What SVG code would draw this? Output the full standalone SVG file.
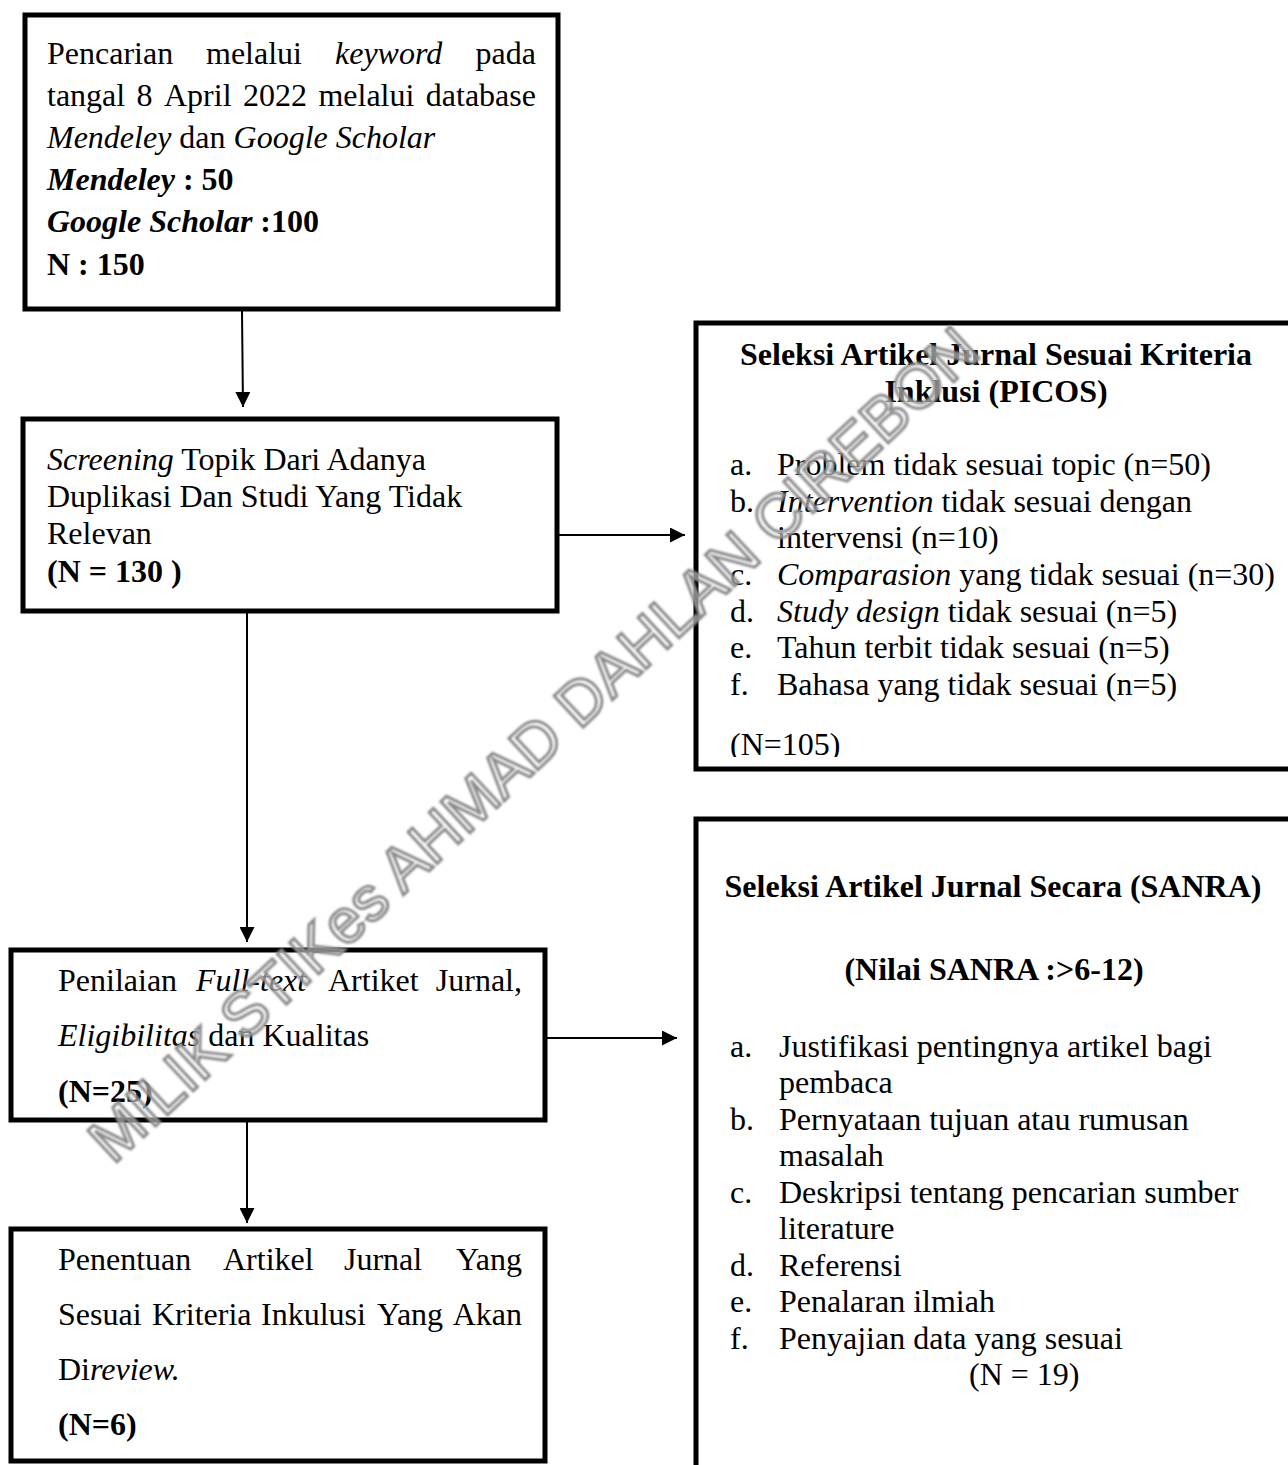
<svg xmlns="http://www.w3.org/2000/svg" width="1288" height="1465" viewBox="0 0 1288 1465">
<style>
.t{font-family:"Liberation Serif","Times New Roman",serif;font-size:32px;fill:#000}
.i{font-style:italic}
.b{font-weight:bold}
.c{text-anchor:middle}
.e{text-anchor:end}
.box{fill:#fff;stroke:#000;stroke-width:5}
.conn{stroke:#000;stroke-width:2;fill:none}
.wm{font-family:"Liberation Sans",Arial,sans-serif;font-size:62px;fill:#fff;fill-opacity:0.45;stroke:#8a8a8a;stroke-width:3;text-anchor:middle}
</style>
<defs>
<marker id="ah" viewBox="0 0 15 15" refX="15" refY="7.5" markerWidth="15" markerHeight="15" markerUnits="userSpaceOnUse" orient="auto">
<path d="M0,0 L15,7.5 L0,15 z" fill="#000"/>
</marker>
<clipPath id="picosClip"><rect x="696" y="323" width="600" height="434"/></clipPath>
<filter id="soft" x="-5%" y="-5%" width="110%" height="110%"><feGaussianBlur stdDeviation="0.9"/></filter>
</defs>
<rect width="1288" height="1465" fill="#fff"/>

<g id="connectors">
<path class="conn" d="M242,311 L243,407" marker-end="url(#ah)"/>
<path class="conn" d="M558,535 L685,535" marker-end="url(#ah)"/>
<path class="conn" d="M247,612 L247,942" marker-end="url(#ah)"/>
<path class="conn" d="M546,1038 L677,1038" marker-end="url(#ah)"/>
<path class="conn" d="M247,1121 L247,1223" marker-end="url(#ah)"/>
</g>

<g id="node-search">
<rect class="box" x="25" y="15" width="533" height="294"/>
<text class="t" x="47" y="64">Pencarian</text>
<text class="t" x="206" y="64">melalui</text>
<text class="t i" x="335" y="64">keyword</text>
<text class="t e" x="536" y="64">pada</text>
<text class="t" y="106"><tspan x="47">tangal</tspan><tspan x="136.6">8</tspan><tspan x="164">April</tspan><tspan x="243">2022</tspan><tspan x="318.4">melalui</tspan><tspan x="425.8">database</tspan></text>
<text class="t" x="47" y="148"><tspan class="i">Mendeley</tspan> dan <tspan class="i">Google Scholar</tspan></text>
<text class="t b" x="47" y="190"><tspan class="i">Mendeley</tspan> : 50</text>
<text class="t b" x="47" y="232"><tspan class="i">Google Scholar</tspan> :100</text>
<text class="t b" x="47" y="275">N : 150</text>
</g>

<g id="node-screening">
<rect class="box" x="23" y="419" width="534" height="192"/>
<text class="t" x="47" y="470"><tspan class="i">Screening</tspan> Topik Dari Adanya</text>
<text class="t" x="47" y="507">Duplikasi Dan Studi Yang Tidak</text>
<text class="t" x="47" y="544">Relevan</text>
<text class="t b" x="47" y="582">(N = 130 )</text>
</g>

<g id="node-picos">
<rect class="box" x="696" y="323" width="610" height="446"/>
<text class="t b c" x="996" y="365">Seleksi Artikel Jurnal Sesuai Kriteria</text>
<text class="t b c" x="996" y="402">Inklusi (PICOS)</text>
<text class="t" x="730" y="475">a.</text><text class="t" x="777" y="475">Problem tidak sesuai topic (n=50)</text>
<text class="t" x="730" y="512">b.</text><text class="t" x="777" y="512"><tspan class="i">Intervention</tspan> tidak sesuai dengan</text>
<text class="t" x="777" y="548">intervensi (n=10)</text>
<text class="t" x="730" y="585">c.</text><text class="t" x="777" y="585"><tspan class="i">Comparasion</tspan> yang tidak sesuai (n=30)</text>
<text class="t" x="730" y="622">d.</text><text class="t" x="777" y="622"><tspan class="i">Study design</tspan> tidak sesuai (n=5)</text>
<text class="t" x="730" y="658">e.</text><text class="t" x="777" y="658">Tahun terbit tidak sesuai (n=5)</text>
<text class="t" x="730" y="695">f.</text><text class="t" x="777" y="695">Bahasa yang tidak sesuai (n=5)</text>
<text class="t" x="730" y="755" clip-path="url(#picosClip)">(N=105)</text>
</g>

<g id="node-fulltext">
<rect class="box" x="11" y="950" width="534" height="170"/>
<text class="t" x="58" y="991">Penilaian</text>
<text class="t i" x="196" y="991">Full-text</text>
<text class="t" x="328" y="991">Artiket</text>
<text class="t e" x="522" y="991">Jurnal,</text>
<text class="t" x="58" y="1046"><tspan class="i">Eligibilitas</tspan> dan Kualitas</text>
<text class="t b" x="58" y="1102">(N=25)</text>
</g>

<g id="node-final">
<rect class="box" x="11" y="1229" width="534" height="232"/>
<text class="t" x="58" y="1270">Penentuan</text>
<text class="t" x="223" y="1270">Artikel</text>
<text class="t" x="344" y="1270">Jurnal</text>
<text class="t e" x="522" y="1270">Yang</text>
<text class="t" x="58" y="1325">Sesuai</text>
<text class="t" x="152" y="1325">Kriteria</text>
<text class="t" x="261" y="1325">Inkulusi</text>
<text class="t" x="377" y="1325">Yang</text>
<text class="t e" x="522" y="1325">Akan</text>
<text class="t" x="58" y="1380">Di<tspan class="i">review.</tspan></text>
<text class="t b" x="58" y="1435">(N=6)</text>
</g>

<g id="node-sanra">
<rect class="box" x="696" y="819" width="610" height="700"/>
<text class="t b c" x="993" y="897">Seleksi Artikel Jurnal Secara (SANRA)</text>
<text class="t b c" x="994" y="980">(Nilai SANRA :&gt;6-12)</text>
<text class="t" x="730" y="1057">a.</text><text class="t" x="779" y="1057">Justifikasi pentingnya artikel bagi</text>
<text class="t" x="779" y="1093">pembaca</text>
<text class="t" x="730" y="1130">b.</text><text class="t" x="779" y="1130">Pernyataan tujuan atau rumusan</text>
<text class="t" x="779" y="1166">masalah</text>
<text class="t" x="730" y="1203">c.</text><text class="t" x="779" y="1203">Deskripsi tentang pencarian sumber</text>
<text class="t" x="779" y="1239">literature</text>
<text class="t" x="730" y="1276">d.</text><text class="t" x="779" y="1276">Referensi</text>
<text class="t" x="730" y="1312">e.</text><text class="t" x="779" y="1312">Penalaran ilmiah</text>
<text class="t" x="730" y="1349">f.</text><text class="t" x="779" y="1349">Penyajian data yang sesuai</text>
<text class="t" x="969" y="1385">(N = 19)</text>
</g>

<g id="watermark" filter="url(#soft)">
<text class="wm" x="548" y="760" transform="rotate(-43 548 760)">MILIK STIKes AHMAD DAHLAN CIREBON</text>
</g>
</svg>
